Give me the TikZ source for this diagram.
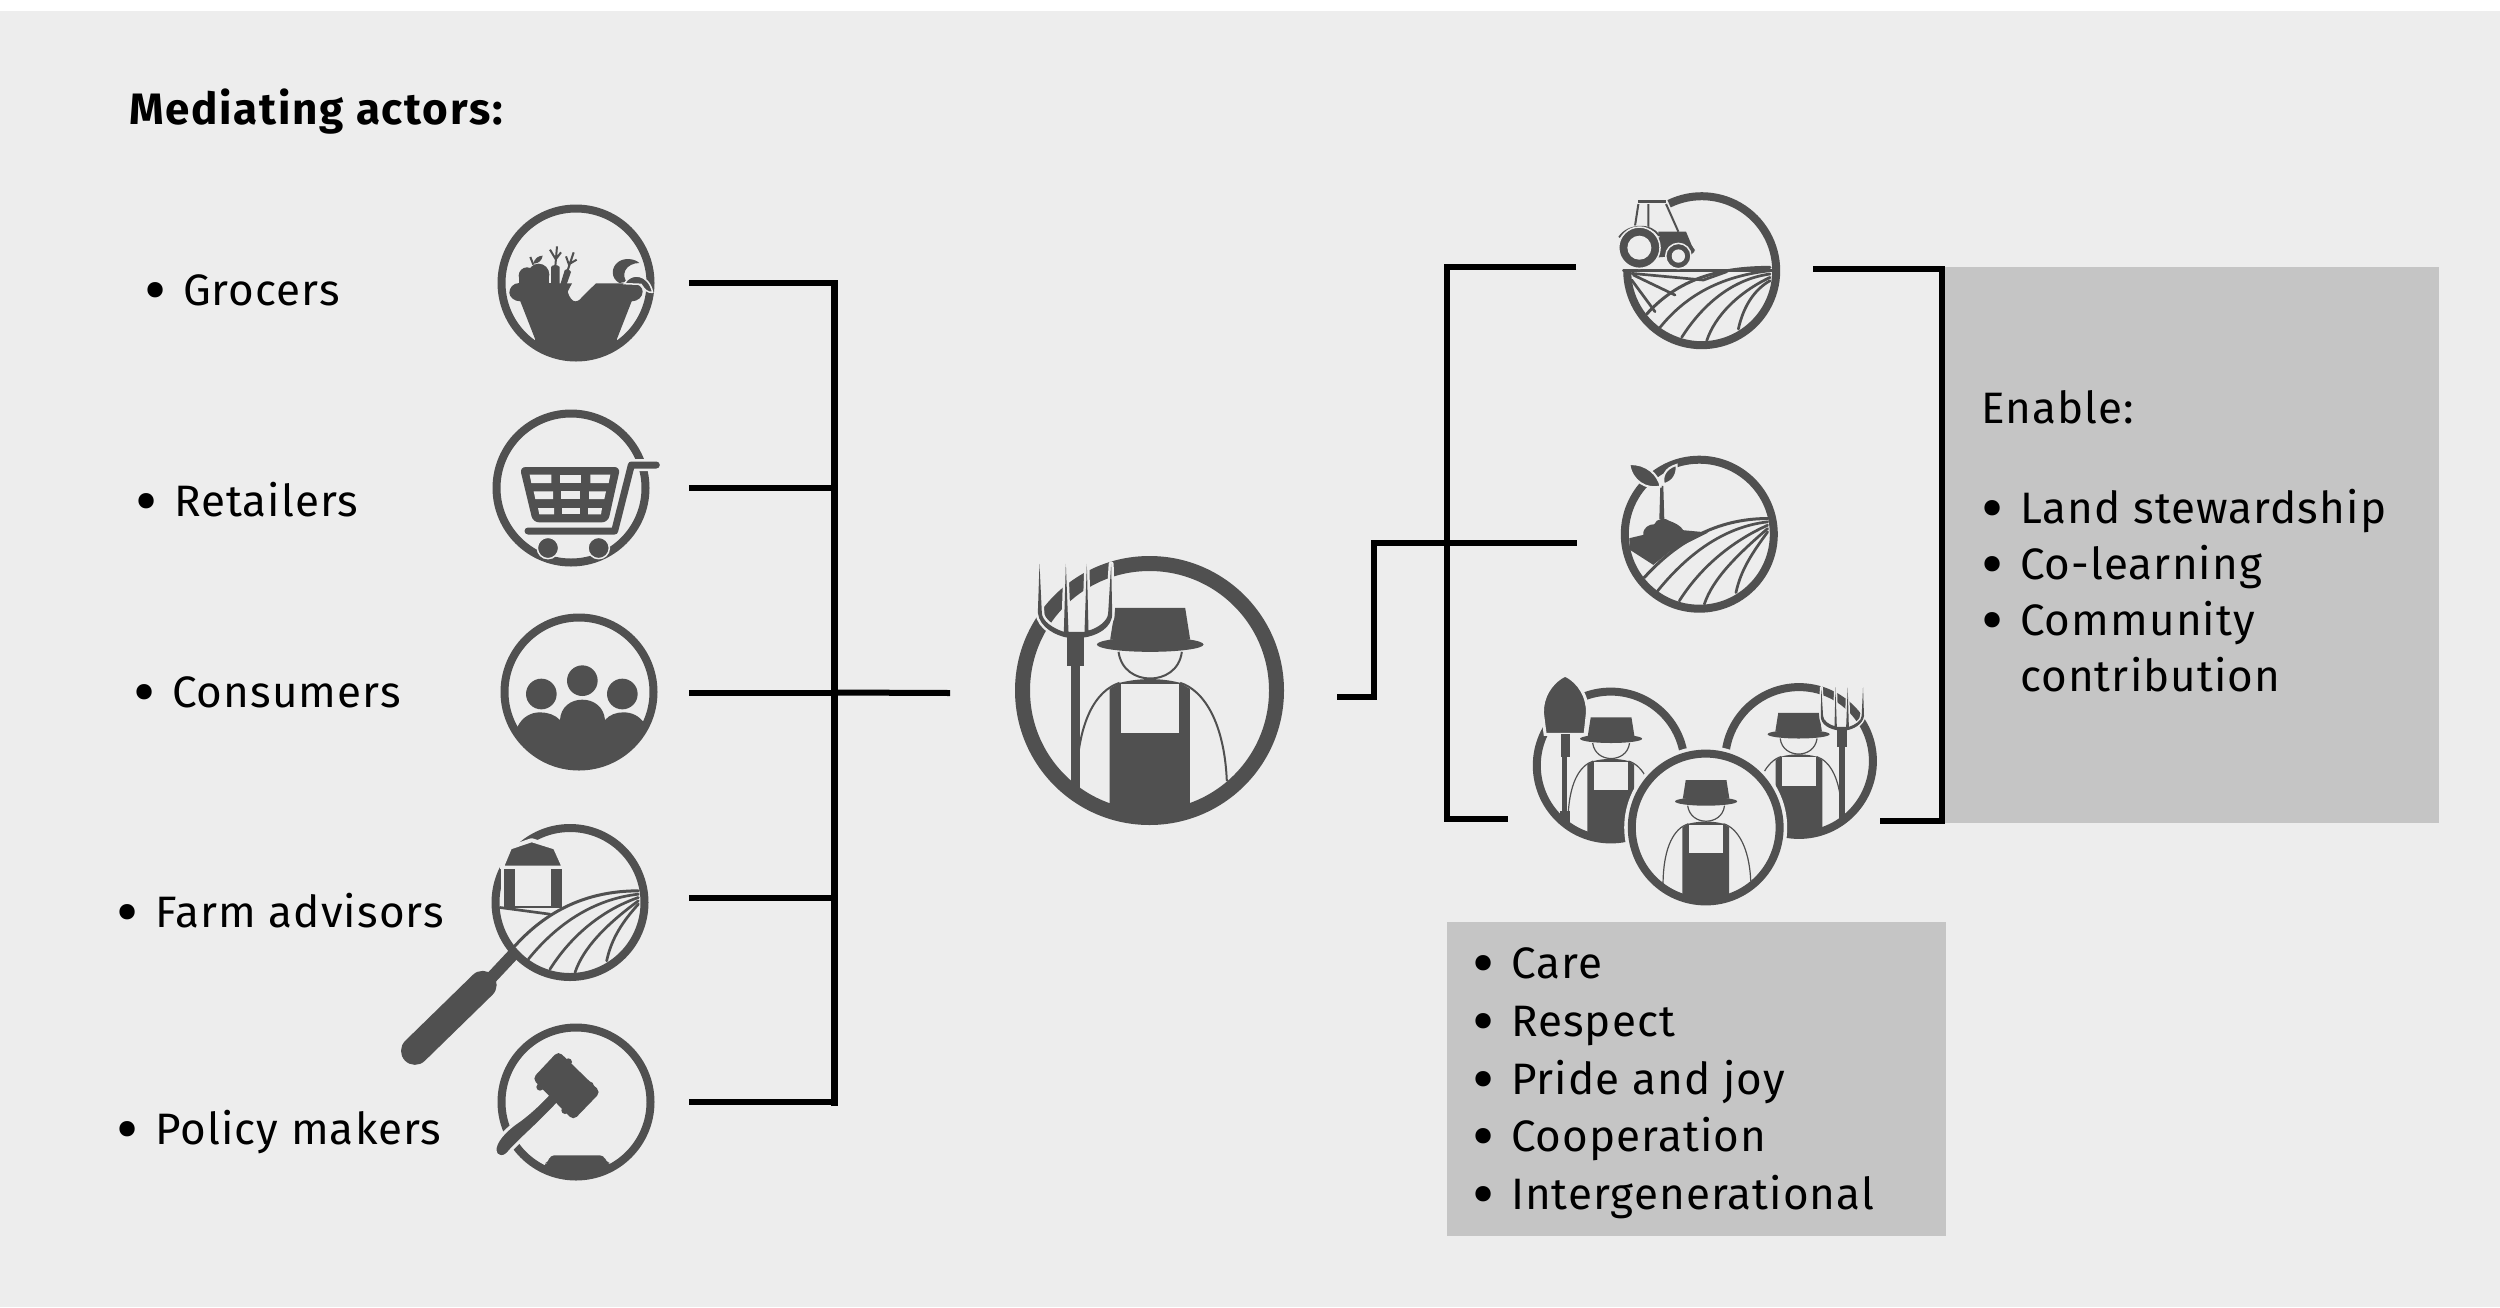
\documentclass[tikz,border=0pt]{standalone}
\usepackage{fontspec}
\setmainfont{Fira Sans}[LetterSpace=2.5]
\newfontfamily\titlefont{Fira Sans}[LetterSpace=4]
\definecolor{dk}{HTML}{505050}
\definecolor{bgc}{HTML}{EDEDED}
\definecolor{boxc}{HTML}{C5C5C5}
\tikzset{
  conn/.style={draw=black,line width=6pt,line cap=butt,line join=miter},
  connthin/.style={draw=black,line width=6pt,line cap=butt},
  ring/.style={draw=dk,line width=8pt},
  rule/.style={draw=dk,line width=2.7pt,line cap=round},
  lab/.style={anchor=base west,inner sep=0pt,outer sep=0pt,font=\fontsize{44}{50}\selectfont,text=black},
}
\newcommand{\bltmark}{\makebox[39pt][l]{\smash{\raisebox{-8pt}{\scalebox{1.55}{•}}}}}
% field fan, in 1/3 px units around the circle centre
\newcommand{\fanlines}[1]{%
  \draw[rule,line width=3pt] (205,-35+#1) .. controls (50,-35+#1) and (-70,25) .. (-165,130);
  \draw[rule] (205,-25+#1) .. controls (70,-10+#1) and (-40,65) .. (-125,170);
  \draw[rule] (205,-15+#1) .. controls (90,25) and (0,105) .. (-60,200);
  \draw[rule] (205,-5+#1) .. controls (110,65) and (40,135) .. (15,210);
  \draw[rule] (205,5+#1) .. controls (160,55) and (125,105) .. (110,175);
}
% farmer figure, in 1/3 px units of the big icon
\newcommand{\personfig}[1]{%
  \draw[dk,line width=#1*2pt] (-90,-23) .. controls (-160,0) and (-218,90) .. (-220,287);
  \draw[dk,line width=#1*2pt] (92,-23) .. controls (165,0) and (225,100) .. (232,272);
  \fill[dk] (-120,-5) -- (-90,-23) .. controls (-30,-38) and (35,-38) .. (92,-23) -- (121,-5) -- (121,365) -- (-120,365) -- cycle;
  \fill[bgc] (-85,-19) -- (87,-19) -- (87,127) -- (-85,127) -- cycle;
  \fill[dk] (-103,-248) -- (107,-248) -- (122,-153) -- (-118,-153) -- cycle;
  \fill[dk] (2,-138) ellipse [x radius=160,y radius=22];
  \draw[dk,line width=#1*2pt] (-93,-116) .. controls (-85,-60) and (-40,-36) .. (2,-36) .. controls (44,-36) and (90,-60) .. (97,-116);
}
\newcommand{\forkpath}{(-330,-380) -- (-335,-233) .. controls (-330,-188) and (-278,-163) .. (-243,-158)
    -- (-203,-158) .. controls (-158,-163) and (-110,-188) .. (-112,-233)
    -- (-115,-380) -- (-124,-233) .. controls (-124,-208) and (-158,-186) .. (-183,-180)
    -- (-188,-380) -- (-195,-176) -- (-243,-176) -- (-251,-380) -- (-257,-176)
    .. controls (-288,-186) and (-323,-208) .. (-323,-233) -- cycle}
\newcommand{\forkfig}[1]{%
  \path[fill=dk,draw=bgc,line width=#1*5pt,line join=round] \forkpath;
  \fill[dk] \forkpath;
  \fill[dk] (-248,-165) rectangle (-198,-73);
  \fill[dk] (-235,-73) rectangle (-208,300);
}
\begin{document}
\begin{tikzpicture}[x=1pt,y=-1pt]
\useasboundingbox (0,0) rectangle (2500,1307);
\fill[white] (0,0) rectangle (2500,1307);
\fill[bgc] (0,11) rectangle (2500,1307);
\node[name=boxA,fill=boxc,inner sep=0pt,minimum width=494pt,minimum height=555.5pt,anchor=north west] at (1945,267) {};
\node[name=boxB,fill=boxc,inner sep=0pt,minimum width=499.5pt,minimum height=313.5pt,anchor=north west] at (1446.5,922) {};

% text
\node[lab,font=\fontsize{44}{50}\selectfont\titlefont\bfseries] (title) at (129,124) {Mediating actors:};
\node[lab] (t1) at (144,305) {\bltmark Grocers};
\node[lab] (t2) at (135,516) {\bltmark Retailers};
\node[lab] (t3) at (133,707) {\bltmark Consumers};
\node[lab] (t4) at (116,927) {\bltmark Farm advisors};
\node[lab] (t5) at (116,1144) {\bltmark Policy makers};
\node[lab] (e0) at (1981,423) {Enable:};
\node[lab] (e1) at (1981,523) {\bltmark Land stewardship};
\node[lab] (e2) at (1981,579) {\bltmark Co-learning};
\node[lab] (e3) at (1981,635) {\bltmark Community};
\node[lab] (e4) at (2020,691) {contribution};
\node[lab] (v1) at (1472,978) {\bltmark Care};
\node[lab] (v2) at (1472,1036) {\bltmark Respect};
\node[lab] (v3) at (1472,1094) {\bltmark Pride and joy};
\node[lab] (v4) at (1472,1151) {\bltmark Cooperation};
\node[lab] (v5) at (1472,1209) {\bltmark Intergenerational};

% connector anchors
\coordinate (a1) at (689,283);
\coordinate (a2) at (689,487.5);
\coordinate (a3) at (689,692.5);
\coordinate (a4) at (689,897.5);
\coordinate (a5) at (689,1102);
\coordinate (b1) at (834,283);
\coordinate (b2) at (834,487.5);
\coordinate (b3) at (834,692.5);
\coordinate (b4) at (834,897.5);
\coordinate (b5) at (834,1102);
\coordinate (mid) at (950,693);
\coordinate (farmerL) at (1337,696.5);
\coordinate (bend1) at (1373.5,696.5);
\coordinate (bend2) at (1373.5,542.5);
\coordinate (seedL) at (1577,542.5);
\coordinate (trL) at (1576,267);
\coordinate (trC) at (1446.5,267);
\coordinate (grC) at (1446.5,818.5);
\coordinate (grL) at (1508,818.5);
\coordinate (trR) at (1813,269);
\coordinate (trD) at (1941.5,269);
\coordinate (grD) at (1941.5,820.5);
\coordinate (grR) at (1880,820.5);

\foreach \n in {1,...,5} {\draw[connthin] (a\n) -- (b\n);}
\draw[conn,line width=7pt,line cap=rect] (b1) -- (b5);
\draw[connthin] (b3) -- (mid);
\draw[conn] (farmerL) -- (bend1) -- (bend2) -- (seedL);
\draw[conn] (trL) -- (trC) -- (grC) -- (grL);
\draw[conn] (trR) -- (trD) -- (grD) -- (grR);

% ---- grocer
\coordinate (icG) at (576,283);
\begin{scope}[shift={(icG)},scale=1/3]
  \draw[ring] (0,0) circle [radius=223.5];
  \fill[dk] (-147,-22) circle [radius=25];
  \fill[dk] (-112,-25) ellipse [x radius=32,y radius=33];
  \fill[dk] (-172,-22) rectangle (-80,4);
  \draw[dk,line width=2pt] (-128,-55) -- (-137,-78);
  \fill[dk] (-128,-58) .. controls (-125,-75) and (-110,-82) .. (-100,-82) .. controls (-102,-68) and (-112,-58) .. cycle;
  \fill[dk] (-75,4) -- (-75,-48) .. controls (-70,-56) and (-55,-56) .. (-49,-48) -- (-49,4) -- cycle;
  \fill[dk] (-47,4) -- (-34,-38) .. controls (-30,-44) and (-17,-40) .. (-15,-33) -- (-28,4) -- cycle;
  \draw[dk,line width=2pt] (-62,-50) -- (-57,-110) (-60,-70) -- (-78,-100) (-60,-72) -- (-45,-92);
  \draw[dk,line width=2pt] (-25,-38) -- (-7,-92) (-20,-52) -- (-30,-80) (-18,-58) -- (2,-70);
  \fill[dk] (-170,0) -- (-12,1) -- (-25,26) .. controls (-20,45) and (-10,55) .. (-2,55) .. controls (10,55) and (15,45) .. (22,38) -- (60,1) -- (162,1) .. controls (190,1) and (200,14) .. (200,26) .. controls (200,42) and (185,55) .. (167,55) -- (122,170) .. controls (75,200) and (-75,200) .. (-122,170) -- (-167,55) .. controls (-185,55) and (-200,42) .. (-200,29) .. controls (-200,14) and (-188,0) .. (-170,0) -- cycle;
  \begin{scope}
    \clip (0,0) circle [radius=228];
    \fill[dk] (-124,165) rectangle (124,240);
  \end{scope}
  \fill[dk] (130,0) .. controls (104,-14) and (104,-48) .. (128,-64) .. controls (145,-76) and (175,-74) .. (190,-60) .. controls (172,-60) and (155,-52) .. (148,-38) .. controls (142,-25) and (145,-12) .. (152,-4) -- cycle;
  \path[fill=dk,draw=bgc,line width=1.5pt] (145,2) .. controls (165,-35) and (218,-28) .. (230,28) .. controls (215,30) and (205,20) .. (195,4) -- cycle;
\end{scope}

% ---- cart
\coordinate (icC) at (571,488);
\begin{scope}[shift={(icC)},scale=1/3]
  \draw[ring] (0,0) circle [radius=223.5];
  \draw[bgc,line width=12pt,line join=round] (131,129) -- (181,-69) -- (256,-69);
  \draw[dk,line width=7pt,line cap=round,line join=round] (-129,129) -- (131,129) -- (181,-69) -- (256,-69);
  \fill[dk,rounded corners=6pt] (-154,-63) -- (148,-63) -- (111,103) -- (-114,103) -- cycle;
  \fill[bgc] (-124,-40) -- (-59,-40) -- (-59,-15) -- (-119,-15) -- cycle;
  \fill[bgc] (-32,-40) -- (31,-40) -- (31,-15) -- (-32,-15) -- cycle;
  \fill[bgc] (58,-40) -- (118,-40) -- (113,-15) -- (58,-15) -- cycle;
  \fill[bgc] (-112,10) -- (-54,10) -- (-54,33) -- (-107,33) -- cycle;
  \fill[bgc] (-29,10) -- (28,10) -- (28,33) -- (-29,33) -- cycle;
  \fill[bgc] (54,10) -- (105,10) -- (100,33) -- (54,33) -- cycle;
  \fill[bgc] (-99,60) -- (-51,60) -- (-51,79) -- (-95,79) -- cycle;
  \fill[bgc] (-27,60) -- (26,60) -- (26,79) -- (-27,79) -- cycle;
  \fill[bgc] (51,60) -- (93,60) -- (90,79) -- (51,79) -- cycle;
  \path[fill=dk,draw=bgc,line width=1.5pt] (-69,180) circle [radius=32];
  \path[fill=dk,draw=bgc,line width=1.5pt] (83,180) circle [radius=32];
\end{scope}

% ---- consumers
\coordinate (icU) at (579,692);
\begin{scope}[shift={(icU)},scale=1/3]
  \draw[ring] (0,0) circle [radius=223.5];
  \fill[dk] (-113,6) circle [radius=46];
  \fill[dk] (10,-34) circle [radius=46];
  \fill[dk] (130,6) circle [radius=46];
  \begin{scope}
    \clip (0,0) circle [radius=228];
    \fill[dk] (-185,105) .. controls (-170,75) and (-145,61) .. (-117,61) .. controls (-95,61) and (-72,68) .. (-57,84) .. controls (-55,45) and (-25,23) .. (10,23) .. controls (45,23) and (75,45) .. (78,84) .. controls (92,68) and (112,61) .. (133,61) .. controls (160,61) and (180,72) .. (195,92) -- (230,240) -- (-230,240) -- cycle;
  \end{scope}
\end{scope}

% ---- magnifier
\coordinate (icM) at (570,902.5);
\begin{scope}[shift={(icM)},scale=1/3]
  \draw[dk,line width=12pt] (-165,150) -- (-240,230);
  \draw[dk,line width=28pt,line cap=round] (-262,247) -- (-465,445);
  \draw[ring] (0,0) circle [radius=223.5];
  \path[fill=dk,draw=bgc,line width=4pt,line join=round] (-205,-105) -- (-180,-165) -- (-115,-187) -- (-45,-165) -- (-18,-105) -- cycle;
  \fill[bgc] (-208,-102) rectangle (-20,12);
  \fill[dk] (-198,-102) rectangle (-25,15);
  \fill[bgc] (-165,-102) rectangle (-57,10);
  \draw[rule] (-210,15) -- (-60,35);
  \fanlines{0}
\end{scope}

% ---- gavel
\coordinate (icV) at (576,1102);
\begin{scope}[shift={(icV)},scale=1/3]
  \draw[ring] (0,0) circle [radius=223.5];
  \path[fill=dk,draw=bgc,line width=3pt] (-75,-33) .. controls (-100,-5) and (-130,25) .. (-170,55) .. controls (-215,85) and (-245,120) .. (-243,145) .. controls (-240,170) and (-215,170) .. (-200,150) .. controls (-170,115) and (-120,75) .. (-50,0) -- cycle;
  \fill[dk,rounded corners=5pt] (-53,-153) -- (74,-30) -- (-8,55) -- (-131,-70) -- cycle;
  \fill[dk] (-23,-120) circle [radius=11];
  \fill[dk] (-108,-45) circle [radius=11];
  \fill[dk] (42,-50) circle [radius=11];
  \fill[dk] (-33,25) circle [radius=11];
  \begin{scope}
    \clip (0,0) circle [radius=228];
    \fill[dk,rounded corners=4pt] (-78,160) -- (84,160) -- (90,180) -- (104,184) -- (120,240) -- (-120,240) -- (-93,184) -- (-82,180) -- cycle;
  \end{scope}
\end{scope}

% ---- big farmer
\coordinate (icF) at (1149.5,690.5);
\begin{scope}[shift={(icF)},scale=1/3]
  \draw[dk,line width=15pt] (0,0) circle [radius=381];
  \personfig{1}
  \forkfig{1}
\end{scope}

% ---- tractor field
\coordinate (icT) at (1701.7,270.7);
\begin{scope}[shift={(icT)},scale=1/3]
  \draw[ring] plot[domain=-116:180,samples=80] ({223.5*cos(\x)},{223.5*sin(\x)});
  \draw[rule] (-235,0) -- (210,0);
  \draw[rule] (-210,8) -- (5,28) -- (75,3);
  \draw[rule] (-205,13) -- (-80,73);
  \draw[rule] (-210,28) -- (-140,123);
  \fanlines{25}
  \draw[rule,line width=2.6pt,line cap=butt] (-190,-207) -- (-107,-207);
  \draw[dk,line width=2pt] (-190,-200) -- (-200,-135) (-107,-200) -- (-70,-117) (-160,-200) -- (-160,-130);
  \fill[dk] (-130,-117) -- (-47,-117) -- (-22,-57) -- (-32,-48) -- (-130,-40) -- cycle;
  \draw[bgc,line width=1.5pt] (-248,-104) .. controls (-220,-145) and (-150,-145) .. (-128,-100);
  \draw[dk,line width=1.8pt] (-248,-100) .. controls (-220,-142) and (-150,-142) .. (-128,-105);
  \path[fill=dk,draw=bgc,line width=1.5pt] (-187,-69) circle [radius=62];
  \fill[bgc] (-187,-69) circle [radius=36];
  \draw[dk,line width=1.6pt] (-108,-70) .. controls (-85,-95) and (-40,-95) .. (-22,-60);
  \path[fill=dk,draw=bgc,line width=1.5pt] (-70,-44) circle [radius=38];
  \fill[bgc] (-70,-44) circle [radius=20];
\end{scope}

% ---- seedling field
\coordinate (icS) at (1699.3,534.2);
\begin{scope}[shift={(icS)},scale=1/3]
  \draw[ring] (0,0) circle [radius=223.5];
  \fill[dk] (-210,12) -- (-168,2) .. controls (-170,-20) and (-150,-30) .. (-135,-30) .. controls (-130,-48) and (-100,-50) .. (-90,-40) .. controls (-75,-35) and (-55,-25) .. (-48,-12) -- (27,-5) -- (-88,52) -- (-138,92) -- (-208,47) -- cycle;
  \fill[dk] (-117,-145) -- (-108,-145) -- (-105,-45) -- (-120,-45) -- cycle;
  \path[fill=dk,draw=bgc,line width=2pt] (-210,-210) .. controls (-158,-213) and (-123,-178) .. (-116,-143) .. controls (-158,-133) and (-203,-158) .. (-210,-210) -- cycle;
  \path[fill=dk,draw=bgc,line width=2pt] (-68,-208) .. controls (-103,-198) and (-113,-173) .. (-106,-150) .. controls (-78,-158) and (-66,-178) .. (-68,-208) -- cycle;
  \fanlines{-12}
\end{scope}

% ---- three farmers
\coordinate (icL) at (1610.7,765.5);
\coordinate (icR) at (1799,761);
\coordinate (icN) at (1705.7,827.5);
\begin{scope}[shift={(icL)},scale=.194]
  \draw[dk,line width=8pt] (0,0) circle [radius=381];
  \personfig{.6}
  \path[fill=dk,draw=bgc,line width=3pt] (-235,-466) .. controls (-310,-430) and (-355,-350) .. (-352,-271) -- (-338,-160) -- (-132,-160) -- (-120,-271) .. controls (-117,-350) and (-160,-430) .. cycle;
  \fill[dk] (-258,-163) rectangle (-210,-43);
  \fill[dk] (-249,-43) rectangle (-223,253);
  \fill[dk] (-261,235) rectangle (-210,304);
\end{scope}
\begin{scope}[shift={(icR)},xscale=-.194,yscale=.194]
  \draw[dk,line width=8pt] (0,0) circle [radius=381];
  \personfig{.6}
  \forkfig{.6}
\end{scope}
\fill[bgc] (icN) circle [radius=81.5];
\begin{scope}[shift={(icN)},scale=.194]
  \draw[dk,line width=8pt] (0,0) circle [radius=381];
  \begin{scope}[yshift=-3.5pt]
  \personfig{.6}
  \end{scope}
\end{scope}
\end{tikzpicture}
\end{document}
